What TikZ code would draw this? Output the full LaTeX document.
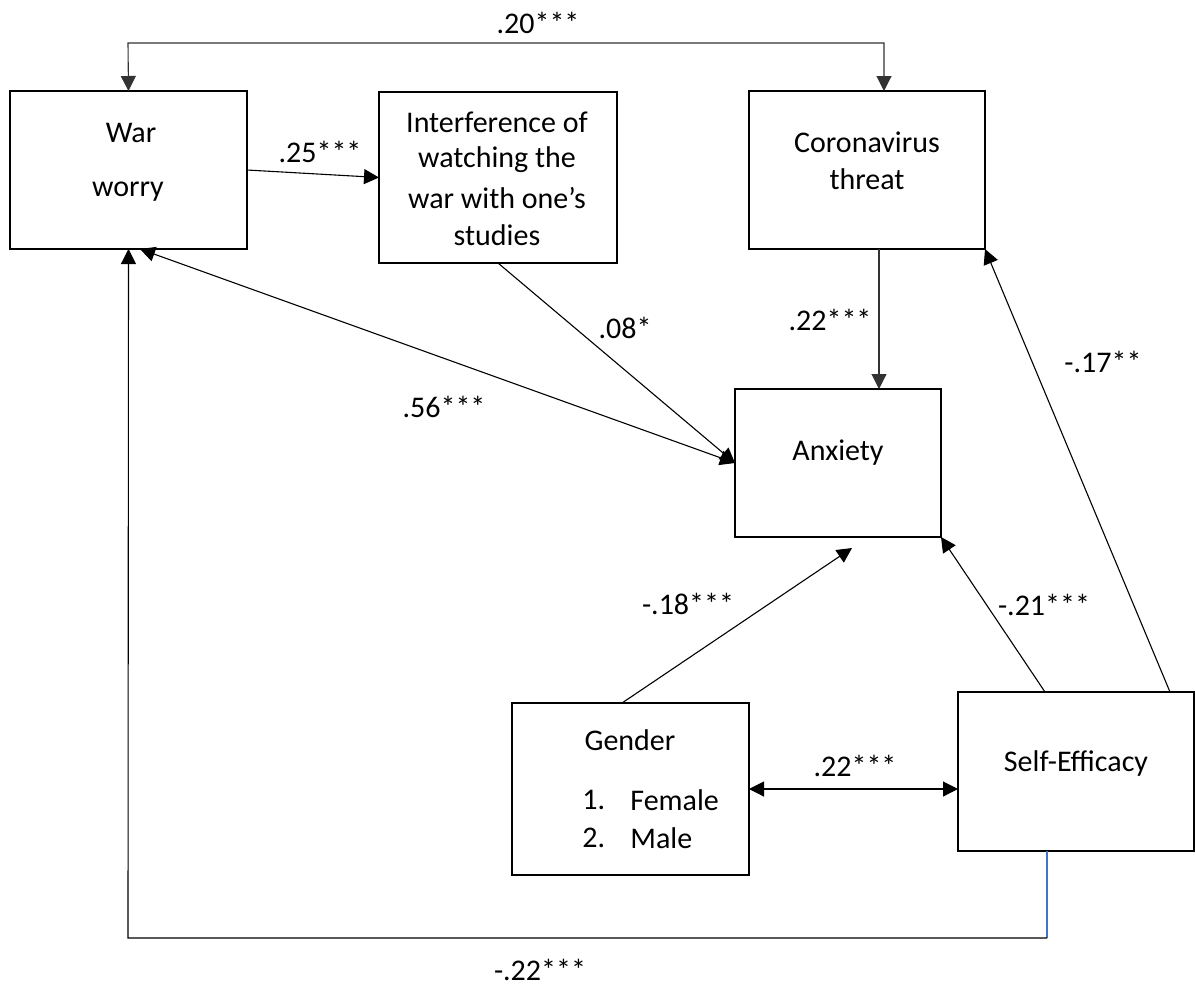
\documentclass[tikz,border=0pt]{standalone}
\usepackage{fontspec}
\setmainfont{Carlito}
\usetikzlibrary{arrows.meta,calc}
\definecolor{lineblue}{RGB}{68,114,196}
\begin{document}
\begin{tikzpicture}[x=0.5pt,y=-0.5pt,
  box/.style={draw, line width=1.4pt, rectangle, inner sep=0pt, outer sep=0pt},
  txt/.style={inner sep=0pt, font=\fontsize{15}{18}\selectfont},
  tip/.tip={Triangle[length=7.5pt,width=7.5pt]},
  conn/.style={line width=0.55pt, -tip},
  dconn/.style={line width=0.55pt, tip-tip},
  plain/.style={line width=0.55pt}]
\useasboundingbox (0,0) rectangle (1195,986);

% boxes
\node[box, minimum width=118.5pt, minimum height=79pt] (war) at (128.5,170) {};
\node[box, minimum width=119pt, minimum height=85.5pt] (intf) at (498,177.5) {};
\node[box, minimum width=118pt, minimum height=79pt] (cor) at (867,170) {};
\node[box, minimum width=103pt, minimum height=74pt] (anx) at (838,463) {};
\node[box, minimum width=118.5pt, minimum height=86pt] (gen) at (630.5,789) {};
\node[box, minimum width=118pt, minimum height=79.5pt] (se) at (1076,771.5) {};

% box texts
\node[txt] (t1) at (131,133) {War};
\node[txt] (t2) at (128,192) {worry};
\node[txt] (t3) at (497,122) {Interference of};
\node[txt] (t4) at (497,160) {watching the};
\node[txt] (t5) at (497,198) {war with one’s};
\node[txt] (t6) at (497,235) {studies};
\node[txt] (t7) at (867,142) {Coronavirus};
\node[txt] (t8) at (867,179) {threat};
\node[txt] (t9) at (838,453) {Anxiety};
\node[txt] (t10) at (630,740) {Gender};
\node[txt, anchor=west] (t11) at (582,800) {1.};
\node[txt, anchor=west] (t12) at (630,800) {Female};
\node[txt, anchor=west] (t13) at (582,838) {2.};
\node[txt, anchor=west] (t14) at (630,838) {Male};
\node[txt] (t15) at (1076,763) {Self-Efficacy};

% coordinates for bends
\coordinate (topL) at (128,43);
\coordinate (topR) at (884,43);
\coordinate (botR) at (1047,938);
\coordinate (botL) at (128,938);

% connectors
\draw[dconn, black!80] (war.north) -- (topL) -- (topR) -- (topR |- cor.north);
\draw[conn] (war.east) -- (intf.west);
\draw[dconn] ([xshift=5.75pt]war.south) -- (anx.west);
\draw[conn] (intf.south) -- (anx.west);
\draw[conn, black!80] ([xshift=6pt]cor.south) -- ([xshift=20.5pt]anx.north);
\draw[conn] ([xshift=-4.25pt]gen.north) -- ([xshift=7pt,yshift=-5.5pt]anx.south);
\draw[conn] ([xshift=-15.5pt]se.north) -- (anx.south east);
\draw[conn] ([xshift=47pt]se.north) -- (cor.south east);
\draw[dconn] (gen.east) -- (gen.east -| se.west);
\draw[plain, lineblue] ([xshift=-14.5pt]se.south) -- (botR);
\draw[conn] (botR) -- (botL) -- (war.south);

% labels
\node[txt] (l1) at (538,23) {.20***};
\node[txt] (l2) at (320,152) {.25***};
\node[txt] (l3) at (444,407) {.56***};
\node[txt] (l4) at (625,328) {.08*};
\node[txt] (l5) at (830,320) {.22***};
\node[txt] (l6) at (1103,362) {-.17**};
\node[txt] (l7) at (688,604) {-.18***};
\node[txt] (l8) at (1044,605) {-.21***};
\node[txt] (l9) at (855,766) {.22***};
\node[txt] (l10) at (540,970) {-.22***};
\end{tikzpicture}
\end{document}
